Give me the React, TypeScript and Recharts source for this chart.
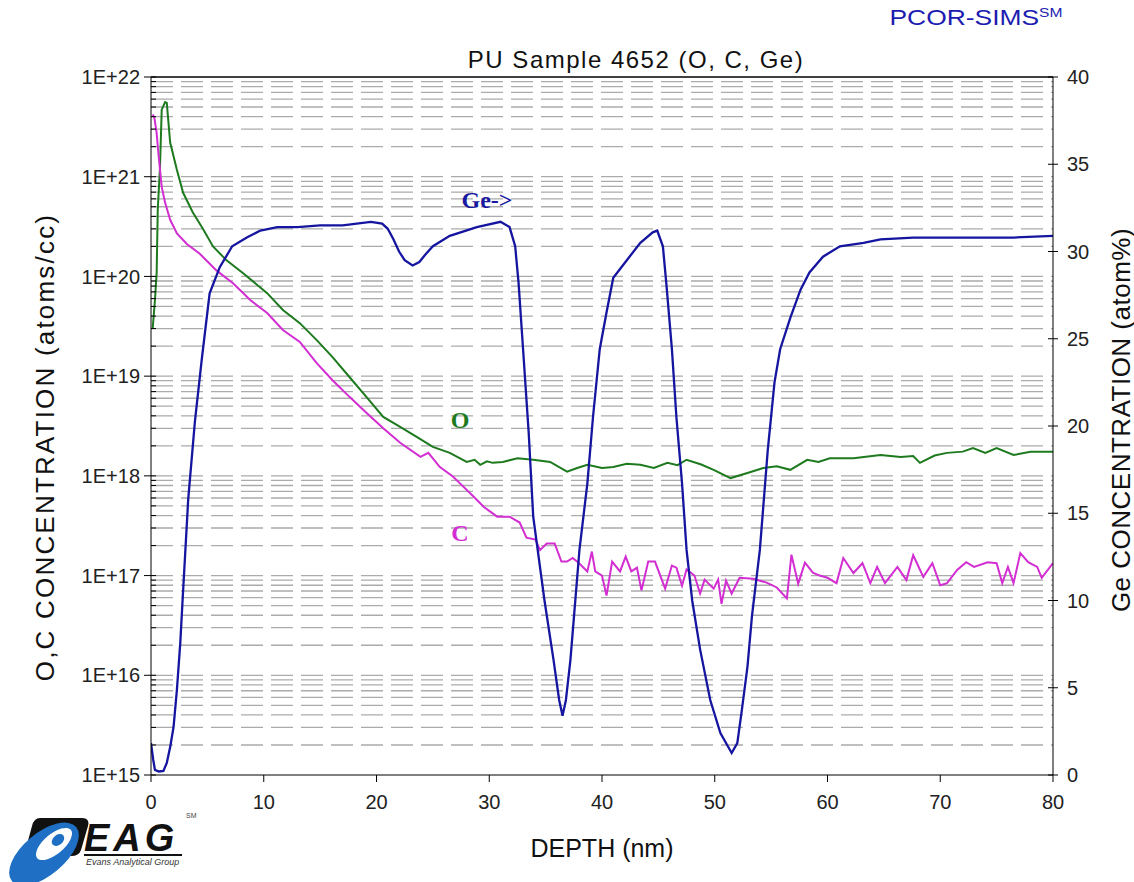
import { LineChart, Line, XAxis, YAxis, CartesianGrid, ReferenceLine } from 'recharts'

const FONT = '"Liberation Sans", Arial, sans-serif'
const SERIF = '"Liberation Serif", "Times New Roman", serif'

// O profile: depth (nm) / concentration (atoms/cc)
const oDepth = [0.15, 0.35, 0.5, 0.6, 0.8, 0.95, 1.25, 1.4, 1.7, 2.3, 2.85, 3.7, 4.6, 5.5, 6.7, 8.2, 10.3, 11.7, 13.2, 14.7, 16.1, 17.6, 19.1, 20.6, 22.1, 23.6, 25.0, 26.5, 28.0, 28.7, 29.2, 29.8, 30.3, 31.2, 32.5, 33.9, 35.4, 36.9, 37.8, 38.7, 40.0, 41.0, 42.2, 43.4, 44.6, 45.8, 46.7, 47.5, 48.8, 49.9, 51.4, 52.9, 54.3, 55.5, 56.7, 58.2, 59.2, 60.2, 62.3, 64.7, 66.5, 67.6, 68.2, 69.5, 70.6, 72.0, 72.9, 74.0, 75.0, 76.5, 78.0, 80.0]
const oConc = [3.0e19, 5.8e19, 1.07e20, 4.7e20, 1.26e21, 4.7e21, 5.6e21, 5.5e21, 2.2e21, 1.17e21, 6.9e20, 4.4e20, 3.0e20, 2.0e20, 1.45e20, 1.07e20, 6.8e19, 4.6e19, 3.4e19, 2.3e19, 1.55e19, 9.8e18, 6.2e18, 3.9e18, 3.1e18, 2.45e18, 1.95e18, 1.7e18, 1.38e18, 1.45e18, 1.29e18, 1.4e18, 1.35e18, 1.38e18, 1.5e18, 1.45e18, 1.38e18, 1.1e18, 1.2e18, 1.29e18, 1.2e18, 1.23e18, 1.32e18, 1.29e18, 1.2e18, 1.35e18, 1.28e18, 1.45e18, 1.3e18, 1.15e18, 9.5e17, 1.07e18, 1.2e18, 1.25e18, 1.15e18, 1.45e18, 1.38e18, 1.5e18, 1.5e18, 1.62e18, 1.55e18, 1.58e18, 1.35e18, 1.6e18, 1.7e18, 1.75e18, 1.9e18, 1.7e18, 1.9e18, 1.62e18, 1.74e18, 1.74e18]

// C profile: depth (nm) / concentration (atoms/cc)
const cDepth = [0.15, 0.3, 0.5, 0.65, 0.8, 0.95, 1.25, 1.7, 2.3, 3.2, 4.3, 5.8, 7.3, 8.8, 10.3, 11.7, 13.2, 14.7, 16.1, 17.6, 19.1, 20.6, 22.1, 23.9, 24.6, 25.6, 26.8, 27.7, 28.6, 29.5, 30.7, 31.8, 32.7, 33.3, 34.1, 34.5, 35.1, 35.8, 36.4, 36.9, 37.4, 37.9, 38.7, 39.1, 39.4, 40.0, 40.4, 40.9, 41.6, 42.1, 42.6, 43.1, 43.5, 44.1, 44.7, 45.6, 46.2, 46.6, 47.1, 47.5, 48.2, 48.7, 49.1, 49.9, 50.3, 50.6, 51.0, 51.5, 52.2, 53.4, 54.6, 55.5, 56.4, 56.8, 57.4, 58.0, 58.7, 59.3, 60.0, 60.8, 61.4, 62.3, 63.1, 63.8, 64.4, 65.1, 66.2, 67.0, 67.6, 68.5, 69.3, 70.0, 70.6, 71.5, 72.3, 73.0, 74.2, 75.0, 75.5, 76.0, 76.5, 77.1, 77.8, 78.6, 79.0, 80.0]
const cConc = [4.2e21, 3.9e21, 2.75e21, 1.74e21, 1.17e21, 7.9e20, 5.5e20, 3.7e20, 2.7e20, 2.1e20, 1.7e20, 1.15e20, 8.5e19, 5.8e19, 4.3e19, 2.9e19, 2.2e19, 1.35e19, 9.1e18, 6.2e18, 4.3e18, 3.0e18, 2.15e18, 1.55e18, 1.7e18, 1.23e18, 9.8e17, 7.8e17, 6.2e17, 4.9e17, 3.9e17, 3.9e17, 3.4e17, 2.4e17, 2.3e17, 1.8e17, 2.1e17, 2.1e17, 1.38e17, 1.38e17, 1.5e17, 1.35e17, 1.1e17, 1.74e17, 1.1e17, 1.0e17, 6.3e16, 1.38e17, 1.1e17, 1.55e17, 1.1e17, 1.2e17, 7.1e16, 1.38e17, 1.38e17, 7.4e16, 1.26e17, 1.2e17, 7.9e16, 1.15e17, 1.0e17, 6.6e16, 9.1e16, 7.4e16, 9.1e16, 5.2e16, 8.9e16, 6.6e16, 9.5e16, 9.3e16, 8.5e16, 7.6e16, 5.9e16, 1.62e17, 8.3e16, 1.35e17, 1.07e17, 1.0e17, 9.5e16, 8.4e16, 1.5e17, 1.06e17, 1.33e17, 8.4e16, 1.22e17, 8.4e16, 1.22e17, 9.0e16, 1.6e17, 9.7e16, 1.33e17, 8.0e16, 8.4e16, 1.14e17, 1.36e17, 1.22e17, 1.36e17, 1.33e17, 8.4e16, 1.22e17, 8.4e16, 1.68e17, 1.36e17, 1.22e17, 9.5e16, 1.33e17]

// Ge profile: depth (nm) / atom %
const geDepth = [0, 0.2, 0.35, 0.7, 1.1, 1.4, 1.7, 2.0, 2.3, 2.6, 2.8, 3.3, 3.9, 4.5, 5.2, 6.1, 7.2, 8.5, 9.7, 11.2, 13.0, 15.0, 17.0, 19.5, 20.5, 21.0, 21.5, 22.0, 22.5, 23.2, 23.8, 24.3, 25.0, 26.5, 28.9, 31.0, 31.8, 32.3, 32.6, 33.0, 33.5, 33.9, 34.9, 35.7, 36.2, 36.5, 36.8, 37.2, 38.0, 38.7, 39.2, 39.8, 40.4, 41.0, 42.2, 43.4, 44.5, 44.9, 45.4, 45.7, 46.2, 46.6, 47.1, 47.5, 48.0, 48.7, 49.6, 50.5, 51.5, 52.0, 52.4, 52.9, 53.3, 54.0, 54.7, 55.3, 55.8, 56.7, 57.6, 58.4, 59.6, 61.1, 63.2, 64.7, 67.6, 70.6, 73.5, 76.5, 80.0]
const geConc = [1.83, 0.86, 0.29, 0.2, 0.23, 0.69, 1.6, 2.75, 4.9, 7.6, 10.0, 15.8, 20.3, 23.8, 27.6, 29.1, 30.3, 30.8, 31.2, 31.4, 31.4, 31.5, 31.5, 31.7, 31.6, 31.3, 30.7, 30.0, 29.5, 29.2, 29.4, 29.8, 30.3, 30.9, 31.4, 31.7, 31.4, 30.3, 28.2, 24.4, 19.6, 14.8, 10.0, 6.6, 4.3, 3.4, 4.3, 6.6, 12.9, 16.7, 20.5, 24.4, 26.5, 28.5, 29.5, 30.5, 31.1, 31.2, 30.3, 28.2, 24.4, 20.5, 16.7, 12.9, 10.0, 7.2, 4.3, 2.4, 1.26, 1.83, 3.7, 6.2, 9.1, 12.9, 18.6, 22.5, 24.4, 26.2, 27.8, 28.8, 29.7, 30.3, 30.5, 30.7, 30.8, 30.8, 30.8, 30.8, 30.9]

const depthTicks = [0, 10, 20, 30, 40, 50, 60, 70, 80]
const geTicks = [0, 5, 10, 15, 20, 25, 30, 35, 40]
const decadeTicks = [1e15, 1e16, 1e17, 1e18, 1e19, 1e20, 1e21, 1e22]
const decadeLabels = ['1E+15', '1E+16', '1E+17', '1E+18', '1E+19', '1E+20', '1E+21', '1E+22']
const minorSteps = [1, 2, 3, 4, 5, 6, 7, 8, 9]

const concTicks: number[] = []
decadeTicks.slice(0, -1).forEach(d => minorSteps.forEach(k => concTicks.push(k * d)))
concTicks.push(1e22)
const gridValues = concTicks.filter(v => v > 1e15 && v < 1e22)

const oData = oDepth.map((d, i) => ({ depth: d, o: oConc[i] }))
const cData = cDepth.map((d, i) => ({ depth: d, c: cConc[i] }))
const geData = geDepth.map((d, i) => ({ depth: d, ge: geConc[i] }))

function LeftTick(props: any) {
  const { x, y, payload } = props
  const idx = decadeTicks.indexOf(payload.value)
  if (idx < 0) {
    return <line x1={x} x2={x + 5} y1={y} y2={y} stroke="#000" strokeWidth={1} />
  }
  return (
    <g>
      <line x1={x - 7} x2={x + 5} y1={y} y2={y} stroke="#000" strokeWidth={1} />
      <text x={x - 11} y={y} dy="0.36em" textAnchor="end" fontSize={20} fontFamily={FONT} fill="#222">
        {decadeLabels[idx]}
      </text>
    </g>
  )
}

function RightTick(props: any) {
  const { x, y, payload } = props
  return (
    <g>
      <line x1={x - 5} x2={x + 5} y1={y} y2={y} stroke="#000" strokeWidth={1} />
      <text x={x + 14} y={y} dy="0.36em" textAnchor="start" fontSize={20} fontFamily={FONT} fill="#222">
        {payload.value}
      </text>
    </g>
  )
}

function EagLogo() {
  return (
    <svg width={200} height={76} style={{ position: 'absolute', left: 0, top: 806 }}>
      <path d="M40 12 L82 12 Q90 12 88 20 L81 44 Q79 50 71 50 L32 50 Q24 50 26 42 L32 20 Q34 12 40 12 Z" fill="#111" />
      <ellipse cx={44} cy={48} rx={42} ry={21} transform="rotate(-40 44 48)" fill="#1f6fc4" />
      <ellipse cx={54} cy={38} rx={22} ry={10} transform="rotate(-40 54 38)" fill="#fff" />
      <ellipse cx={58} cy={34} rx={7} ry={5} transform="rotate(-40 58 34)" fill="#1f6fc4" />
      <text x={84} y={45} fontSize={38} fontWeight={700} fontStyle="italic" fontFamily={FONT} fill="#111" letterSpacing={4}>
        EAG
      </text>
      <line x1={84} x2={182} y1={49} y2={49} stroke="#111" strokeWidth={2} />
      <text x={86} y={59} fontSize={9} fontStyle="italic" fontFamily={FONT} fill="#333">
        Evans Analytical Group
      </text>
      <text x={186} y={12} fontSize={7} fontFamily={FONT} fill="#444">SM</text>
    </svg>
  )
}

const abs = (left: number, top: number, extra: any = {}) => ({
  position: 'absolute' as const,
  left,
  top,
  transform: 'translate(-50%, -50%)',
  whiteSpace: 'nowrap' as const,
  fontFamily: FONT,
  ...extra,
})

export default function App() {
  return (
    <div style={{ position: 'absolute', left: 0, top: 0, width: 1134, height: 882, background: '#fff', overflow: 'hidden' }}>
      <LineChart width={1134} height={882} margin={{ top: 77, right: 0, bottom: 0, left: 0 }}>
        <CartesianGrid
          vertical={false}
          horizontalValues={gridValues}
          stroke="#ababab"
          strokeWidth={1.3}
          strokeDasharray="22 8"
        />
        <XAxis
          dataKey="depth"
          type="number"
          domain={[0, 80]}
          ticks={depthTicks}
          interval={0}
          allowDataOverflow
          height={107}
          tickSize={7}
          tickMargin={13}
          stroke="#000"
          tick={{ fontSize: 20, fontFamily: FONT, fill: '#222' }}
        />
        <YAxis
          scale="log"
          domain={[1e15, 1e22]}
          ticks={concTicks}
          interval={0}
          allowDataOverflow
          width={151}
          tickSize={0}
          tickMargin={0}
          tickLine={false}
          stroke="#000"
          tick={<LeftTick />}
        />
        <YAxis
          yAxisId="ge"
          orientation="right"
          domain={[0, 40]}
          ticks={geTicks}
          interval={0}
          allowDataOverflow
          width={81}
          tickSize={0}
          tickMargin={0}
          tickLine={false}
          stroke="#000"
          tick={<RightTick />}
        />
        <ReferenceLine y={1e22} stroke="#000" strokeWidth={1.5} />
        <Line data={oData} dataKey="o" type="linear" stroke="#1e7a1e" strokeWidth={2} dot={false} isAnimationActive={false} />
        <Line data={cData} dataKey="c" type="linear" stroke="#d22ed2" strokeWidth={2} dot={false} isAnimationActive={false} />
        <Line data={geData} dataKey="ge" yAxisId="ge" type="linear" stroke="#1515a0" strokeWidth={2.3} dot={false} isAnimationActive={false} />
      </LineChart>

      <div style={abs(636, 60, { fontSize: 24, color: '#111', letterSpacing: 1.5 })}>PU Sample 4652 (O, C, Ge)</div>
      <div style={abs(976, 18, { fontSize: 22, color: '#1c1cb0', transform: 'translate(-50%, -50%) scaleX(1.2)' })}>
        PCOR-SIMS<sup style={{ fontSize: 13 }}>SM</sup>
      </div>
      <div style={abs(602, 848, { fontSize: 25, color: '#111' })}>DEPTH (nm)</div>
      <div style={abs(45, 447, { fontSize: 26, color: '#111', letterSpacing: 2.2, transform: 'translate(-50%, -50%) rotate(-90deg)' })}>
        O,C CONCENTRATION (atoms/cc)
      </div>
      <div style={abs(1121, 420, { fontSize: 26, color: '#111', letterSpacing: 0.5, transform: 'translate(-50%, -50%) rotate(-90deg)' })}>
        Ge CONCENTRATION (atom%)
      </div>

      <div style={abs(487, 200, { fontSize: 24, fontWeight: 700, fontFamily: SERIF, color: '#1a1aa0' })}>Ge-&gt;</div>
      <div style={abs(460, 420, { fontSize: 24, fontWeight: 700, fontFamily: SERIF, color: '#1e7a1e' })}>O</div>
      <div style={abs(460, 533, { fontSize: 24, fontWeight: 700, fontFamily: SERIF, color: '#d22ed2' })}>C</div>

      <EagLogo />
    </div>
  )
}
